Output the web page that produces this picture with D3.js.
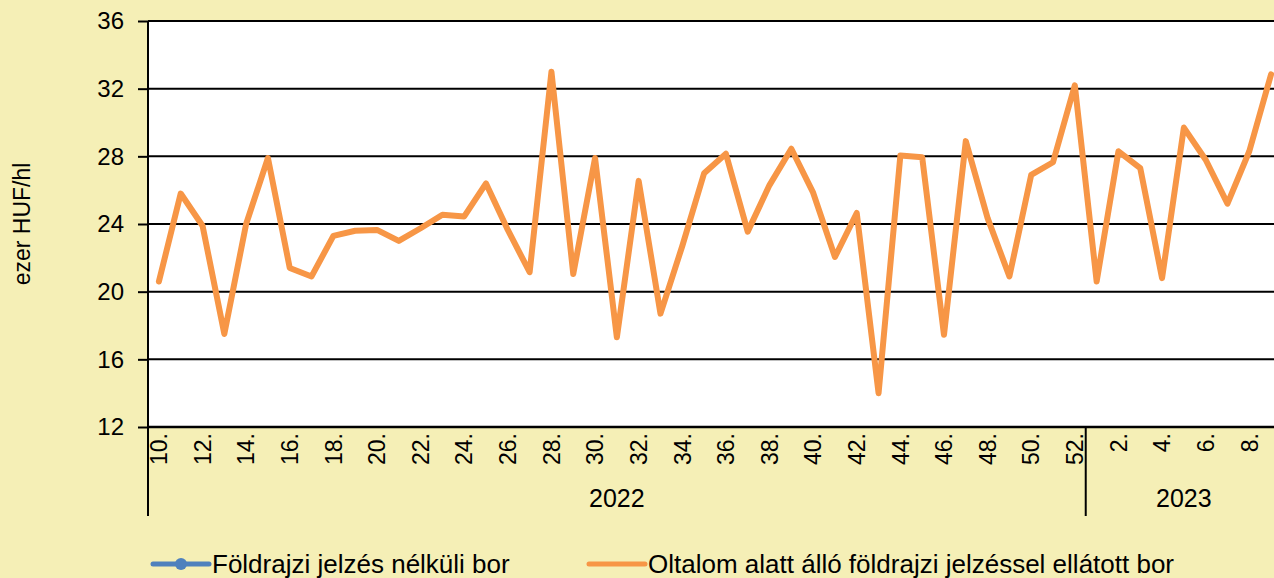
<!DOCTYPE html>
<html>
<head>
<meta charset="utf-8">
<script src="https://cdn.jsdelivr.net/npm/d3@7/dist/d3.min.js"></script>
<style>
  body { margin: 0; background: #f5efb6; }
  svg { display: block; font-family: "Liberation Sans", Arial, sans-serif; }
</style>
</head>
<body>
<svg id="chart" width="1274" height="578"></svg>
<script>
// week labels per year
const weeks2022 = ['10.', '11.', '12.', '13.', '14.', '15.', '16.', '17.', '18.', '19.', '20.', '21.', '22.', '23.', '24.', '25.', '26.', '27.', '28.', '29.', '30.', '31.', '32.', '33.', '34.', '35.', '36.', '37.', '38.', '39.', '40.', '41.', '42.', '43.', '44.', '45.', '46.', '47.', '48.', '49.', '50.', '51.', '52.'];
const weeks2023 = ['1.', '2.', '3.', '4.', '5.', '6.', '7.', '8.', '9.'];
const years = ['2022', '2023'];

// ezer HUF/hl
const protectedGeo2022 = [20.6, 25.8, 23.9, 17.5, 24.0, 27.9, 21.4, 20.9, 23.3, 23.6, 23.65, 23.0, 23.75, 24.55, 24.45, 26.4, 23.65, 21.15, 33.0, 21.05, 27.9, 17.3, 26.55, 18.7, 22.7, 27.0, 28.15, 23.55, 26.3, 28.45, 25.85, 22.05, 24.65, 14.0, 28.05, 27.95, 17.45, 28.9, 24.35, 20.9, 26.9, 27.65, 32.2];
const protectedGeo2023 = [20.6, 28.3, 27.3, 20.8, 29.7, 27.8, 25.2, 28.3, 32.85];
// no visible points in this window
const noGeo2022 = [];
const noGeo2023 = [];

const yTicks = [12, 16, 20, 24, 28, 32, 36];
const shownWeeks = ['10.', '12.', '14.', '16.', '18.', '20.', '22.', '24.', '26.', '28.', '30.', '32.', '34.', '36.', '38.', '40.', '42.', '44.', '46.', '48.', '50.', '52.', '2.', '4.', '6.', '8.'];

const seriesNames = ['Földrajzi jelzés nélküli bor', 'Oltalom alatt álló földrajzi jelzéssel ellátott bor'];
const seriesColors = ['#4f81bd', '#f79646'];

const cats = [
  ...weeks2022.map(w => ({ year: years[0], week: w })),
  ...weeks2023.map(w => ({ year: years[1], week: w }))
];
const key = c => `${c.year}-${c.week}`;
const protectedGeo = [...protectedGeo2022, ...protectedGeo2023];

const svg = d3.select('#chart');
const plot = { left: 148, right: 1282, top: 21, bottom: 427 };

const x = d3.scaleBand()
  .domain(cats.map(key))
  .range([plot.left, plot.right])
  .padding(0);
const cx = c => x(key(c)) + x.bandwidth() / 2;

const y = d3.scaleLinear()
  .domain([12, 36])
  .range([plot.bottom, plot.top]);

svg.append('rect')
  .attr('x', plot.left)
  .attr('y', plot.top)
  .attr('width', plot.right - plot.left)
  .attr('height', plot.bottom - plot.top)
  .attr('fill', '#fff');

// gridlines
svg.append('g')
  .selectAll('line')
  .data(yTicks)
  .enter()
  .append('line')
  .attr('x1', plot.left)
  .attr('x2', plot.right)
  .attr('y1', d => y(d))
  .attr('y2', d => y(d))
  .attr('stroke', '#000')
  .attr('stroke-width', 2);

// y axis
const yAxis = svg.append('g')
  .attr('transform', `translate(${plot.left},0)`)
  .call(d3.axisLeft(y).tickValues(yTicks).tickSize(10).tickPadding(14));
yAxis.select('.domain').remove();
yAxis.selectAll('.tick line').attr('stroke', '#000').attr('stroke-width', 2);
yAxis.selectAll('.tick text')
  .attr('fill', '#000')
  .style('font-size', '24px')
  .style('font-family', '"Liberation Sans", Arial, sans-serif');

svg.append('line')
  .attr('x1', plot.left).attr('x2', plot.left)
  .attr('y1', plot.top).attr('y2', 516)
  .attr('stroke', '#000').attr('stroke-width', 2);

svg.append('text')
  .attr('transform', 'translate(30,224) rotate(-90)')
  .attr('text-anchor', 'middle')
  .style('font-size', '23px')
  .text('ezer HUF/hl');

// x axis week labels
const xAxis = svg.append('g')
  .attr('transform', `translate(0,${plot.bottom})`)
  .call(d3.axisBottom(x)
    .tickValues(cats.filter(c => shownWeeks.includes(c.week)).map(key))
    .tickFormat(k => k.split('-')[1])
    .tickSize(0));
xAxis.select('.domain').remove();
xAxis.selectAll('.tick text')
  .attr('fill', '#000')
  .attr('transform', 'rotate(-90)')
  .attr('text-anchor', 'end')
  .attr('x', -6)
  .attr('y', 0)
  .attr('dy', '0.36em')
  .style('font-size', '23px')
  .style('font-family', '"Liberation Sans", Arial, sans-serif');

svg.append('line')
  .attr('x1', plot.left).attr('x2', plot.right)
  .attr('y1', plot.bottom).attr('y2', plot.bottom)
  .attr('stroke', '#000').attr('stroke-width', 2.5);

// year groups
const yearSpan = yr => {
  const cs = cats.filter(c => c.year === yr);
  return [x(key(cs[0])), x(key(cs[cs.length - 1])) + x.bandwidth()];
};
years.forEach((yr, i) => {
  const [a, b] = yearSpan(yr);
  svg.append('text')
    .attr('x', (a + b) / 2)
    .attr('y', 507)
    .attr('text-anchor', 'middle')
    .style('font-size', '25px')
    .text(yr);
  if (i > 0) {
    svg.append('line')
      .attr('x1', a).attr('x2', a)
      .attr('y1', plot.bottom).attr('y2', 516)
      .attr('stroke', '#000').attr('stroke-width', 2);
  }
});

// series
const line = d3.line()
  .defined(d => d.v != null)
  .x(d => cx(d.c))
  .y(d => y(d.v));

const noGeo = [...noGeo2022, ...noGeo2023];
svg.append('path')
  .datum(noGeo.map((v, i) => ({ c: cats[i], v })))
  .attr('fill', 'none')
  .attr('stroke', seriesColors[0])
  .attr('stroke-width', 5)
  .attr('d', line);

svg.append('path')
  .datum(protectedGeo.map((v, i) => ({ c: cats[i], v })))
  .attr('fill', 'none')
  .attr('stroke', seriesColors[1])
  .attr('stroke-width', 6)
  .attr('stroke-linejoin', 'round')
  .attr('stroke-linecap', 'round')
  .attr('d', line);

// legend
const legendX = [153, 589];
const legend = svg.append('g')
  .selectAll('g')
  .data(seriesNames)
  .enter()
  .append('g')
  .attr('transform', (d, i) => `translate(${legendX[i]},564)`);

legend.append('line')
  .attr('x1', 0).attr('x2', 56)
  .attr('stroke', (d, i) => seriesColors[i])
  .attr('stroke-width', 5)
  .attr('stroke-linecap', 'round');
legend.filter((d, i) => i === 0)
  .append('circle')
  .attr('cx', 28)
  .attr('r', 6)
  .attr('fill', seriesColors[0]);
legend.append('text')
  .attr('x', 59)
  .attr('y', 9)
  .style('font-size', '26px')
  .text(d => d);
</script>
</body>
</html>
